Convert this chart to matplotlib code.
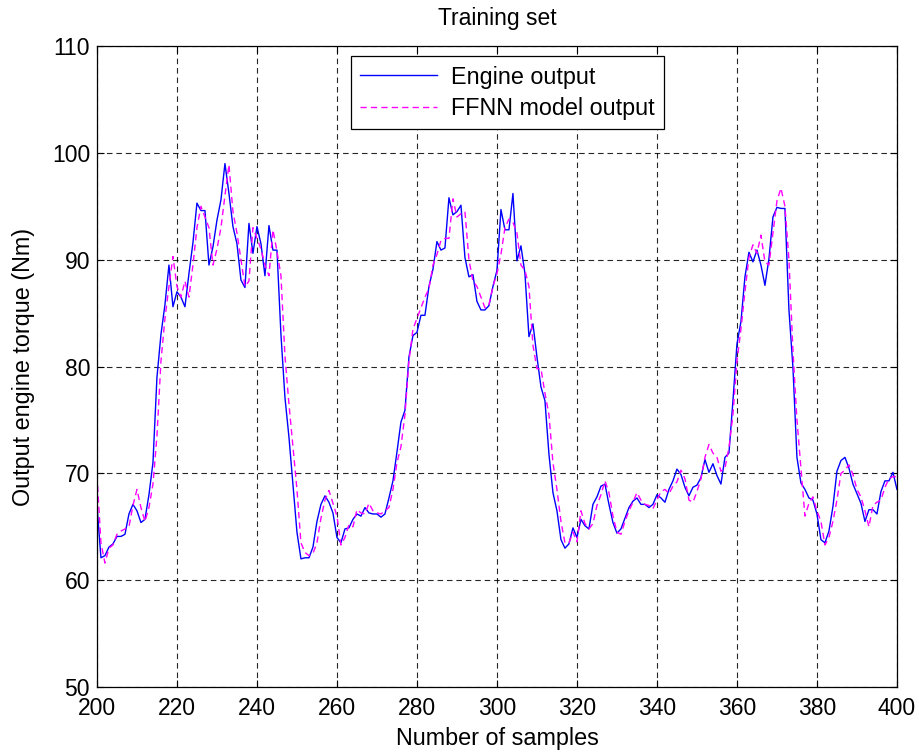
import numpy as np
import matplotlib
matplotlib.use("Agg")
import matplotlib.pyplot as plt

plt.rcParams['font.family'] = ['Liberation Sans', 'DejaVu Sans']

samples = np.arange(200, 401)

engine_output = [
    67.0, 62.1, 62.3, 63.1, 63.4, 64.1, 64.1, 64.3, 66.2, 67.1,
    66.5, 65.4, 65.7, 68.0, 71.0, 79.0, 83.0, 85.8, 89.5, 85.6,
    87.0, 86.5, 85.6, 88.7, 91.6, 95.3, 94.6, 94.6, 89.5, 91.2,
    93.7, 95.6, 99.0, 96.2, 93.1, 91.5, 88.1, 87.4, 93.4, 90.6,
    93.1, 91.5, 88.5, 93.2, 90.9, 90.9, 83.0, 77.1, 73.4, 69.0,
    64.5, 62.0, 62.1, 62.1, 63.1, 65.5, 67.1, 67.9, 67.3, 66.3,
    64.0, 63.5, 64.8, 64.9, 65.7, 66.2, 66.0, 66.8, 66.3, 66.2,
    66.2, 65.9, 66.2, 67.7, 69.3, 72.0, 74.8, 75.9, 80.9, 82.9,
    83.2, 84.8, 84.8, 87.5, 89.1, 91.7, 90.9, 91.1, 95.8, 94.2,
    94.5, 95.1, 90.2, 88.4, 88.6, 86.1, 85.3, 85.3, 85.7, 87.5,
    89.0, 94.7, 92.8, 92.8, 96.2, 89.9, 91.3, 88.7, 82.8, 84.0,
    80.9, 78.1, 76.8, 71.8, 68.2, 66.5, 63.8, 63.0, 63.4, 64.9,
    64.0, 65.7, 65.1, 64.8, 67.1, 67.8, 68.8, 69.0, 67.1, 65.4,
    64.4, 64.8, 65.8, 66.8, 67.4, 67.7, 67.1, 67.1, 66.8, 67.1,
    68.0, 67.7, 67.3, 68.5, 69.3, 70.4, 69.9, 68.7, 67.9, 68.7,
    68.9, 69.6, 71.3, 70.1, 70.9, 69.8, 69.0, 71.5, 71.9, 76.8,
    82.1, 84.2, 88.4, 90.7, 89.8, 90.9, 89.5, 87.6, 90.1, 94.0,
    94.9, 94.8, 94.8, 85.3, 79.9, 71.5, 69.1, 68.5, 67.7, 67.5,
    66.2, 63.8, 63.5, 64.6, 66.9, 70.2, 71.2, 71.5, 70.5, 69.0,
    68.1, 67.2, 65.5, 66.6, 66.6, 66.2, 68.3, 69.3, 69.3, 70.1,
    68.5,
]

ffnn_output = [
    69.8, 63.5, 61.6, 63.0, 63.3, 64.3, 64.6, 64.8, 65.0, 67.0,
    68.5, 66.8, 65.5, 66.8, 69.0, 73.5, 80.5, 84.5, 87.5, 90.3,
    87.5, 86.5, 88.0, 86.5, 89.5, 93.0, 95.0, 94.0, 93.0, 89.5,
    91.0, 93.0, 96.0, 98.9, 94.5, 92.5, 90.0, 87.5, 88.0, 93.0,
    92.0, 91.0, 89.5, 88.5, 92.8, 90.8, 88.5, 81.0, 76.5, 72.5,
    68.5, 63.5, 62.6, 62.3, 62.5, 63.5, 65.8, 67.5, 68.4, 67.2,
    66.0, 63.3, 64.0, 65.2, 65.0, 66.6, 66.3, 66.2, 67.2, 66.5,
    66.3, 66.2, 66.5, 66.8, 68.5, 71.0, 72.5, 75.5, 80.5, 83.5,
    84.5, 85.5, 86.5, 87.3, 89.5, 90.5, 91.8, 92.0, 92.0, 95.7,
    94.0, 94.3, 94.5, 90.0, 88.0, 87.5, 86.5, 85.5, 85.8, 87.5,
    88.7, 90.5, 93.0, 93.8, 93.5, 92.5, 89.5, 89.0, 87.5, 82.0,
    79.8, 79.8, 77.5, 75.5, 71.0, 68.5, 65.5, 63.5, 63.5, 64.5,
    63.6, 66.5, 65.3, 64.8, 65.3, 67.0, 68.0, 69.3, 68.2, 66.0,
    64.5, 64.3, 65.5, 66.5, 67.3, 68.2, 67.5, 67.1, 67.0, 66.7,
    67.5, 68.3, 68.5, 68.1, 68.8, 69.2, 70.3, 69.5, 67.5, 67.3,
    68.3, 69.5, 71.5, 72.7, 71.9, 71.5, 70.2, 70.5, 72.4, 75.5,
    80.5, 83.5, 87.0, 90.2, 91.4, 90.6, 92.3, 89.8, 89.5, 92.5,
    95.5, 96.7, 95.0, 90.0, 81.5, 75.0, 70.5, 66.0, 67.2, 67.8,
    66.5, 65.5, 63.3, 64.0, 65.5, 67.5, 70.0, 70.3, 70.8, 69.9,
    68.5, 67.8, 66.5, 65.0, 67.0, 67.3, 67.5, 68.7, 69.5, 69.7,
    69.7,
]

x_ticks = [200, 220, 240, 260, 280, 300, 320, 340, 360, 380, 400]
y_ticks = [50, 60, 70, 80, 90, 100, 110]

fig = plt.figure(figsize=(9.19, 7.55), dpi=100)
ax = fig.add_axes([0.1055, 0.090, 0.8705, 0.849])

ax.plot(samples, engine_output, color=(0, 0, 1), lw=1.0, label='Engine output')
ax.plot(samples, ffnn_output, color=(1, 0, 1), lw=1.0,
        linestyle=(0, (4.5, 3.0)), label='FFNN model output')

ax.set_xlim(200, 400)
ax.set_ylim(50, 110)
ax.set_xticks(x_ticks)
ax.set_yticks(y_ticks)
ax.tick_params(direction='in', top=True, right=True, labelsize=16.5,
               length=5, width=0.8)
ax.tick_params(axis='x', pad=7)
ax.tick_params(axis='y', pad=5)
ax.grid(True, color='black', linestyle=(0, (5, 3.5)), linewidth=0.8, alpha=0.85)
for sp in ax.spines.values():
    sp.set_linewidth(0.9)

ax.set_title('Training set', fontsize=16.5, pad=15.5)
ax.set_xlabel('Number of samples', fontsize=16.8, labelpad=5)
ax.set_ylabel('Output engine torque (Nm)', fontsize=16.8, labelpad=12)

leg = ax.legend(loc='upper center', bbox_to_anchor=(0.513, 0.984),
                fontsize=16.8, handlelength=3.3, handletextpad=0.6,
                fancybox=False, framealpha=1, edgecolor='black',
                borderpad=0.4, labelspacing=0.35, borderaxespad=0)
leg.get_frame().set_linewidth(0.9)

fig.savefig('out.png', dpi=100)
